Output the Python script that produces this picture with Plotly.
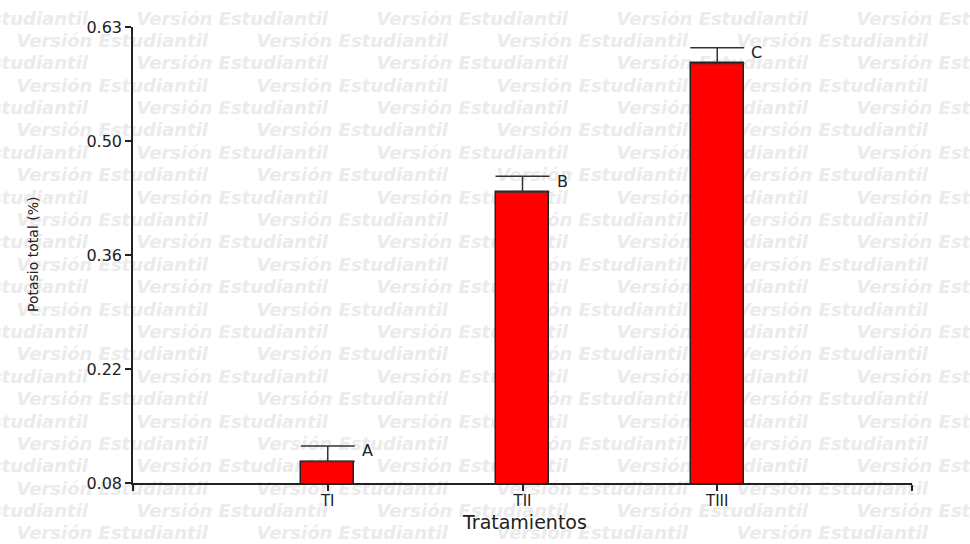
import numpy as np
import plotly.graph_objects as go

# Datos: potasio total (%) por tratamiento, con error y letras de significancia
TRATAMIENTOS = ["TI", "TII", "TIII"]
POTASIO_MEDIA = [0.106, 0.433, 0.589]
POTASIO_ERROR = [0.019, 0.019, 0.019]
LETRAS = ["A", "B", "C"]
Y_TICK_LABELS = ["0.08", "0.22", "0.36", "0.50", "0.63"]
Y_MIN, Y_MAX = 0.08, 0.6332

# Marca de agua repetida
WM_TEXT = "Versión Estudiantil"

W, H = 970, 544
ML, MR, MT, MB = 133, 58, 27, 61
PLOT_L, PLOT_R = ML, W - MR
PLOT_T, PLOT_B = MT, H - MB
PW, PH = PLOT_R - PLOT_L, PLOT_B - PLOT_T

FONT = "DejaVu Sans"
INK = "#222222"


def px_x(px):
    return (px - PLOT_L) / PW


def px_y(py):
    return (PLOT_B - py) / PH


fig = go.Figure()

# Marca de agua: etiquetas de formas bajo las trazas, en todo el lienzo.
# Cada texto se alinea a la derecha de su caja, que termina donde acaba la frase.
wm_shapes = []
for k in range(24):
    ypx = 17 + 22.39 * k
    x0 = 13 if k % 2 else -107
    for j in range(5):
        xstart = x0 + 240 * j
        if xstart >= W:
            continue
        xend = xstart + 198
        wm_shapes.append(dict(
            type="rect", xref="paper", yref="paper", layer="below",
            x0=px_x(xend - 230), x1=px_x(xend),
            y0=px_y(ypx + 11), y1=px_y(ypx - 11),
            line=dict(width=0), fillcolor="rgba(0,0,0,0)",
            label=dict(text=WM_TEXT, textposition="middle right", padding=0,
                       font=dict(family=FONT, size=18, color="#ebebeb",
                                 weight="bold", style="italic")),
        ))

# Barras con error superior
xpos = list(range(1, len(TRATAMIENTOS) + 1))
fig.add_trace(go.Bar(
    x=xpos, y=POTASIO_MEDIA, width=0.27,
    marker=dict(color="#ff0000", line=dict(color=INK, width=1.5)),
    error_y=dict(type="data", array=POTASIO_ERROR, arrayminus=[0] * len(xpos),
                 symmetric=False, color="#333333", thickness=1.5, width=27),
    showlegend=False, hoverinfo="skip",
))

# Letras de significancia junto al extremo del error
for xi, m, e, letra in zip(xpos, POTASIO_MEDIA, POTASIO_ERROR, LETRAS):
    fig.add_annotation(x=xi, y=m + e, xref="x", yref="y", text=letra,
                       showarrow=False, xanchor="left", yanchor="middle",
                       xshift=32, yshift=-5,
                       font=dict(family=FONT, size=16, color=INK))

# Títulos de ejes
fig.add_annotation(x=px_x(524), y=px_y(522), xref="paper", yref="paper",
                   text="Tratamientos", showarrow=False, xanchor="center", yanchor="middle",
                   font=dict(family=FONT, size=19, color=INK))
fig.add_annotation(x=px_x(33), y=0.5, xref="paper", yref="paper",
                   text="Potasio total (%)", showarrow=False, textangle=-90,
                   xanchor="center", yanchor="middle",
                   font=dict(family=FONT, size=14, color=INK))

y_ticks = np.linspace(Y_MIN, Y_MAX, len(Y_TICK_LABELS))

fig.update_layout(
    width=W, height=H, autosize=False,
    margin=dict(l=ML, r=MR, t=MT, b=MB, pad=0),
    paper_bgcolor="white", plot_bgcolor="rgba(0,0,0,0)",
    shapes=wm_shapes,
    xaxis=dict(
        range=[0, len(TRATAMIENTOS) + 1],
        tickvals=[0] + xpos + [len(TRATAMIENTOS) + 1],
        ticktext=[""] + TRATAMIENTOS + [""],
        ticks="outside", ticklen=6, tickwidth=1.5, tickcolor=INK,
        ticklabelstandoff=-3,
        showline=True, linecolor=INK, linewidth=1.5,
        showgrid=False, zeroline=False, fixedrange=True,
        tickfont=dict(family=FONT, size=15, color=INK),
    ),
    yaxis=dict(
        range=[Y_MIN, Y_MAX],
        tickvals=list(y_ticks), ticktext=Y_TICK_LABELS,
        ticks="outside", ticklen=6, tickwidth=1.5, tickcolor=INK,
        showline=True, linecolor=INK, linewidth=1.5,
        showgrid=False, zeroline=False, fixedrange=True,
        tickfont=dict(family=FONT, size=16, color=INK),
    ),
    bargap=0,
)

fig.write_html("out.html")
